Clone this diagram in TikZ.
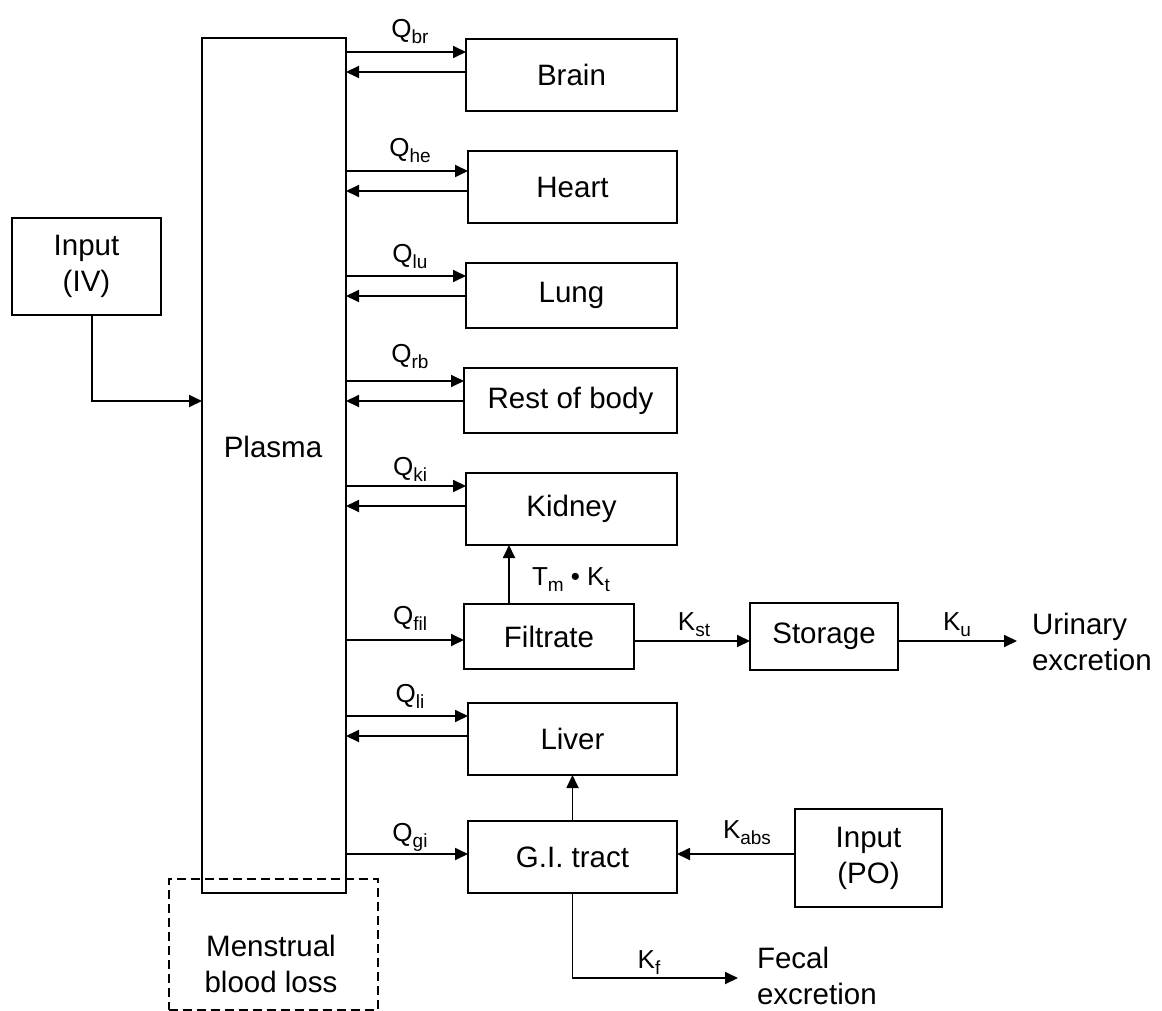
\documentclass[tikz,border=0pt]{standalone}
\usepackage{fontspec}
\setmainfont{Liberation Sans}
\usetikzlibrary{arrows.meta}
% lowered subscript used in the rate labels
\newcommand\lowsub[1]{\raisebox{-6pt}{\fontsize{19}{19}\selectfont #1}}

\begin{document}
\begin{tikzpicture}[x=1pt,y=-1pt,
  every node/.style={inner sep=0pt, outer sep=0pt},
  box/.style={draw, line width=1.8pt, font=\fontsize{29.5}{36}\selectfont, align=center},
  flow/.style={line width=1.8pt, -{Triangle[length=13pt,width=12pt]}},
  rate/.style={font=\fontsize{26}{30}\selectfont, anchor=base},
  txt/.style={font=\fontsize{29.5}{36}\selectfont, align=left}
]
\useasboundingbox (0,0) rectangle (1162,1011);

% compartments
\node[box, minimum width=144pt, minimum height=855pt] (plasma) at (274,465.5) {};
\node[txt] (plasmalbl) at (273,447) {Plasma};
\node[box, minimum width=149pt, minimum height=97pt] (iv) at (86.5,266.5) {Input\\(IV)};
\node[box, minimum width=211pt, minimum height=72pt] (brain) at (571.5,75) {Brain};
\node[box, minimum width=209pt, minimum height=72pt] (heart) at (572.5,187) {Heart};
\node[box, minimum width=211pt, minimum height=65pt] (lung) at (571.5,295.5) {Lung};
\node[box, minimum width=213pt, minimum height=65pt] (rob) at (570.5,400.5) {Rest of body};
\node[box, minimum width=211pt, minimum height=72pt] (kidney) at (571.5,509) {Kidney};
\node[box, minimum width=170pt, minimum height=65pt] (filt) at (549,636.5) {Filtrate};
\node[box, minimum width=148pt, minimum height=67pt] (stor) at (824,636.5) {Storage};
\node[box, minimum width=209pt, minimum height=72pt] (liver) at (572.5,739) {Liver};
\node[box, minimum width=209pt, minimum height=72pt] (gi) at (572.5,857) {G.I. tract};
\node[box, minimum width=147pt, minimum height=98pt] (po) at (868.5,858) {Input\\(PO)};
\node[box, dash pattern=on 9pt off 5pt, minimum width=209pt, minimum height=131pt] (mbl) at (273.5,944.5) {};
\node[txt, align=center] (mbllbl) at (271,964) {Menstrual\\blood loss};

% excretion outlets
\node[txt, anchor=west] (urin) at (1032,642) {Urinary\\excretion};
\node[txt, anchor=west] (fecal) at (757,976) {Fecal\\excretion};
\coordinate (uend) at (1017,641);
\coordinate (fend) at (738,978);

% blood flow exchange between plasma and tissues
\foreach \o/\f/\b in {brain/52/72, heart/171/191, lung/276/296, rob/381/401, kidney/486/506, liver/716/736} {
  \draw[flow] (plasma.east |- 0,\f) -- (\o.west |- 0,\f);
  \draw[flow] (\o.west |- 0,\b) -- (plasma.east |- 0,\b);
}
\draw[flow] (plasma.east |- 0,640) -- (filt.west |- 0,640);
\draw[flow] (plasma.east |- 0,854) -- (gi.west |- 0,854);

% other transfers
\draw[flow] ([xshift=5.5pt]iv.south) |- (plasma.west |- 0,401);
\draw[flow] (filt.north -| 509,0) -- (kidney.south -| 509,0);
\draw[flow] (filt.east |- 0,641) -- (stor.west |- 0,641);
\draw[flow] (stor.east |- 0,641) -- (uend);
\draw[flow] (gi.north) -- (liver.south);
\draw[flow] (po.west |- 0,854) -- (gi.east |- 0,854);
\draw[flow] (gi.south) |- (fend);

% rate labels
\node[rate] (qbr) at (410,38) {Q\lowsub{br}};
\node[rate] (qhe) at (410,157) {Q\lowsub{he}};
\node[rate] (qlu) at (410,262) {Q\lowsub{lu}};
\node[rate] (qrb) at (410,362) {Q\lowsub{rb}};
\node[rate] (qki) at (410,475) {Q\lowsub{ki}};
\node[rate] (qfil) at (410,624) {Q\lowsub{fil}};
\node[rate] (qli) at (410,702) {Q\lowsub{li}};
\node[rate] (qgi) at (410,841) {Q\lowsub{gi}};
\node[rate, anchor=base west] (tmkt) at (532,585) {T\lowsub{m} • K\lowsub{t}};
\node[rate] (kst) at (694,630) {K\lowsub{st}};
\node[rate] (ku) at (957,630) {K\lowsub{u}};
\node[rate] (kabs) at (747,838) {K\lowsub{abs}};
\node[rate] (kf) at (649,968) {K\lowsub{f}};
\end{tikzpicture}
\end{document}
